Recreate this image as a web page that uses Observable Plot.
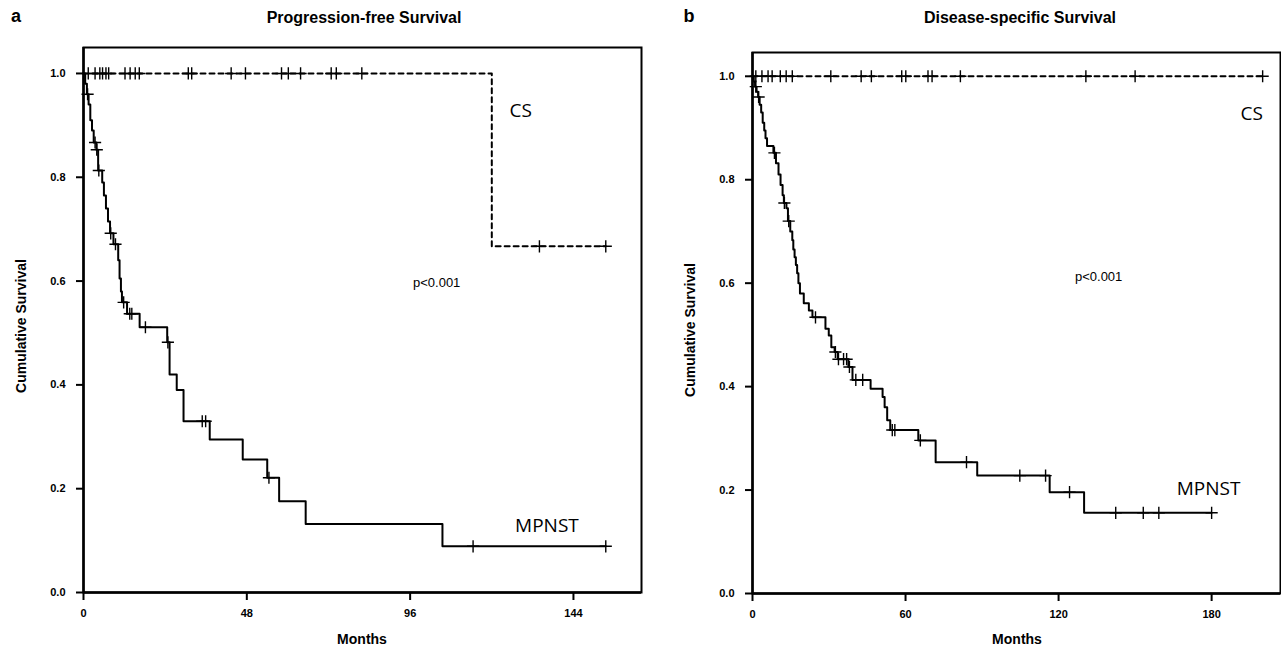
<!DOCTYPE html>
<html><head><meta charset="utf-8">
<script src="https://cdn.jsdelivr.net/npm/d3@7"></script>
<script src="https://cdn.jsdelivr.net/npm/@observablehq/plot@0.6"></script>
<style>
html,body{margin:0;padding:0;background:#fff}
body{width:1281px;height:656px;overflow:hidden;position:relative;font-family:"Liberation Sans",Arial,sans-serif}
.panel{position:absolute;top:0}
.t{position:absolute;transform:translate(-50%,-50%);white-space:nowrap;color:#000;font-weight:bold}
</style></head><body>
<div id="pa" class="panel" style="left:0"></div>
<div id="pb" class="panel" style="left:640px"></div>
<script>
// ---------- data ----------
const yTicks = [0, 0.2, 0.4, 0.6, 0.8, 1.0];
const pfsTicks = [0, 48, 96, 144];
const dssTicks = [0, 60, 120, 180];

// Progression-free survival, MPNST (step points: month, survival)
const pfsMpnstTime = [0,0.5,1.0,1.5,2.0,2.5,3.0,3.8,4.3,5.5,6.0,6.6,7.2,7.8,8.8,10.2,10.6,11.0,11.3,12.8,16.5,24.6,25.3,27.4,29.4,37.1,46.8,54.0,57.5,65.3,105.5,153.5];
const pfsMpnstSurv = [1.0,0.98,0.96,0.94,0.91,0.89,0.867,0.853,0.813,0.79,0.765,0.74,0.715,0.692,0.671,0.64,0.605,0.58,0.559,0.537,0.511,0.482,0.42,0.39,0.33,0.295,0.256,0.221,0.176,0.132,0.089,0.089];
const pfsMpnstCensor = [1.2,3.4,3.9,4.5,8.0,9.4,11.8,13.6,14.2,18.2,24.8,34.9,35.9,54.5,114.5,153.5];
// Progression-free survival, CS
const pfsCsTime = [0,120,153.5];
const pfsCsSurv = [1.0,0.667,0.667];
const pfsCsCensor = [1.4,3.4,4.8,5.6,6.6,7.4,12.2,13.7,15.2,16.4,30.8,31.8,43.4,47.6,58.2,60.2,63.8,72.8,74.3,81.8,134,153.5];

// Disease-specific survival, MPNST
const dssMpnstTime = [0,0.5,1,1.6,2.2,2.8,3.4,4,4.6,5.1,5.7,8.2,9.2,10.2,11.0,11.8,12.3,13.3,13.9,14.8,15.6,16.0,16.5,17.0,17.5,18.0,18.6,20.1,22.1,23.5,28.6,29.9,30.9,32.2,33.4,37.6,39.2,46.3,51.0,51.8,52.8,54.0,65.0,71.8,88.1,116.5,130,180];
const dssMpnstSurv = [1,0.99,0.98,0.97,0.96,0.945,0.93,0.91,0.895,0.88,0.865,0.852,0.832,0.81,0.79,0.77,0.755,0.745,0.72,0.70,0.683,0.665,0.65,0.635,0.619,0.60,0.58,0.561,0.547,0.534,0.512,0.499,0.476,0.467,0.453,0.438,0.413,0.396,0.38,0.36,0.335,0.316,0.296,0.254,0.228,0.196,0.156,0.156];
const dssMpnstCensor = [1.3,2.4,8.6,12.5,14.2,24.7,32.5,33.7,35.7,36.9,38.0,40.5,43.2,54.8,55.8,65.8,83.9,104.8,114.9,124.3,142.4,153.2,159.3,180];
// Disease-specific survival, CS
const dssCsTime = [0,200];
const dssCsSurv = [1.0,1.0];
const dssCsCensor = [1.3,3.7,6.1,7.7,10.9,13.2,15.6,30.7,42.6,46.6,58.5,60.1,68.8,70.4,81.5,130.7,150,200];

// ---------- helpers ----------
const steps = (T, S) => T.map((t, i) => ({t, s: S[i]}));
function censorPts(T, S, C) {
  return C.map(c => {
    let s = S[0];
    for (let i = 0; i < T.length; i++) if (T[i] <= c) s = S[i];
    return {t: c, s};
  });
}

function panel({width, mL, mR, mT, mB, xMax, yMax, xTicks, mp, cs, labels}) {
  return Plot.plot({
    width, height: 656,
    marginLeft: mL, marginRight: mR, marginTop: mT, marginBottom: mB,
    style: {fontFamily: '"Liberation Sans", Arial, sans-serif', background: "transparent"},
    x: {domain: [0, xMax]},
    y: {domain: [0, yMax]},
    marks: [
      Plot.axisX({ticks: xTicks, tickSize: 8, tickPadding: 9, strokeWidth: 2, fontSize: 11, fontWeight: "bold", label: null}),
      Plot.axisY({ticks: yTicks, tickFormat: d3.format(".1f"), tickSize: 7, tickPadding: 11, strokeWidth: 2, fontSize: 11, fontWeight: "bold", label: null}),
      Plot.frame({stroke: "#000", strokeWidth: 2}),
      Plot.ruleX([0], {stroke: "#000", strokeWidth: 2.5}),
      Plot.ruleY([0], {stroke: "#000", strokeWidth: 2.5}),
      Plot.line(cs.line, {x: "t", y: "s", curve: "step-after", stroke: "#000", strokeWidth: 2, strokeDasharray: "5,4"}),
      Plot.line(mp.line, {x: "t", y: "s", curve: "step-after", stroke: "#000", strokeWidth: 2}),
      Plot.dot(cs.cens, {x: "t", y: "s", symbol: "plus", r: 4, stroke: "#000", strokeWidth: 1.4}),
      Plot.dot(mp.cens, {x: "t", y: "s", symbol: "plus", r: 4, stroke: "#000", strokeWidth: 1.4}),
      Plot.text([labels.cs], {x: d => d[0], y: d => d[1], text: () => "CS", fontFamily: '"Open Sans", sans-serif', fontSize: 19, fill: "#000"}),
      Plot.text([labels.mp], {x: d => d[0], y: d => d[1], text: () => "MPNST", fontFamily: '"Open Sans", sans-serif', fontSize: 19, fill: "#000"}),
      Plot.text([labels.p], {x: d => d[0], y: d => d[1], text: () => "p<0.001", fontFamily: '"Liberation Sans", Arial, sans-serif', fontSize: 13, fill: "#000"})
    ]
  });
}

const svgA = panel({
  width: 645, mL: 83, mR: 4, mT: 47, mB: 64, xMax: 164, yMax: 1.05, xTicks: pfsTicks,
  mp: {line: steps(pfsMpnstTime, pfsMpnstSurv), cens: censorPts(pfsMpnstTime, pfsMpnstSurv, pfsMpnstCensor)},
  cs: {line: steps(pfsCsTime, pfsCsSurv), cens: censorPts(pfsCsTime, pfsCsSurv, pfsCsCensor)},
  labels: {cs: [128.5, 0.927], mp: [136.2, 0.129], p: [103.8, 0.597]}
});
document.getElementById("pa").append(svgA);

const svgB = panel({
  width: 641, mL: 112, mR: 1, mT: 52, mB: 63, xMax: 207, yMax: 1.046, xTicks: dssTicks,
  mp: {line: steps(dssMpnstTime, dssMpnstSurv), cens: censorPts(dssMpnstTime, dssMpnstSurv, dssMpnstCensor)},
  cs: {line: steps(dssCsTime, dssCsSurv), cens: censorPts(dssCsTime, dssCsSurv, dssCsCensor)},
  labels: {cs: [195.7, 0.928], mp: [178.8, 0.203], p: [135.7, 0.613]}
});
document.getElementById("pb").append(svgB);

// ---------- titles and axis labels ----------
const texts = [
  {s: "a", x: 16, y: 16, size: 18},
  {s: "Progression-free Survival", x: 364, y: 18, size: 16},
  {s: "b", x: 689, y: 16, size: 18},
  {s: "Disease-specific Survival", x: 1020, y: 18, size: 16},
  {s: "Months", x: 362, y: 639, size: 14},
  {s: "Months", x: 1017, y: 639, size: 14},
  {s: "Cumulative Survival", x: 21, y: 326, size: 14, rot: true},
  {s: "Cumulative Survival", x: 690, y: 330, size: 14, rot: true}
];
for (const d of texts) {
  const el = document.createElement("div");
  el.className = "t";
  el.textContent = d.s;
  el.style.left = d.x + "px";
  el.style.top = d.y + "px";
  el.style.fontSize = d.size + "px";
  if (d.rot) el.style.transform = "translate(-50%,-50%) rotate(-90deg)";
  document.body.append(el);
}
</script>
</body></html>
